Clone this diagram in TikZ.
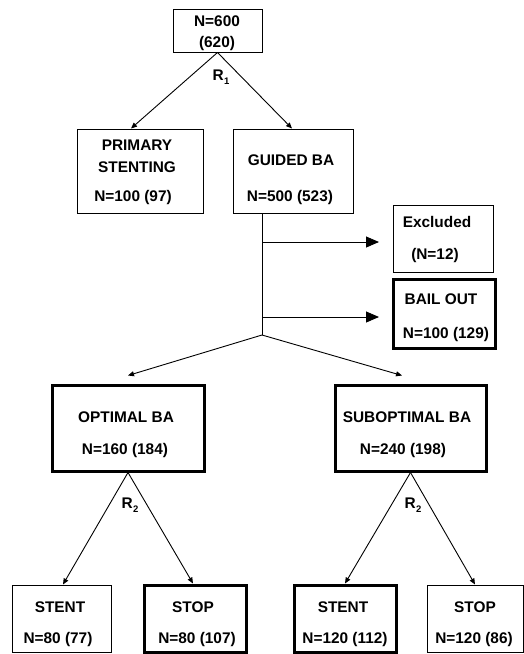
\documentclass[tikz,border=0pt]{standalone}
\usepackage{fontspec}
\setmainfont{Liberation Sans}
\usetikzlibrary{arrows.meta}
\begin{document}
\begin{tikzpicture}[x=1pt,y=-1pt,
  thinbox/.style={draw,line width=1pt,inner sep=0pt},
  thickbox/.style={draw,line width=3pt,inner sep=0pt},
  lbl/.style={font=\fontsize{15.4}{18}\selectfont\bfseries,inner sep=0pt,text height=11pt,text depth=0pt},
  conn/.style={line width=0.9pt},
  sarrow/.style={conn,-{Triangle[length=6pt,width=5pt]}},
  barrow/.style={conn,-{Triangle[length=13pt,width=11pt]}}]
\useasboundingbox (0,0) rectangle (524,654);
% boxes
\node[thinbox,minimum width=89pt,minimum height=43pt] (top) at (217.5,30.5) {};
\node[thinbox,minimum width=126pt,minimum height=84pt] (primary) at (140,171) {};
\node[thinbox,minimum width=120pt,minimum height=84pt] (guided) at (293,171) {};
\node[thinbox,minimum width=100pt,minimum height=67pt] (excluded) at (443,238.5) {};
\node[thickbox,minimum width=102pt,minimum height=69pt] (bailout) at (444,313.5) {};
\node[thickbox,minimum width=152pt,minimum height=86pt] (optimal) at (128,428) {};
\node[thickbox,minimum width=151pt,minimum height=86pt] (subopt) at (410.5,428) {};
\node[thinbox,minimum width=99pt,minimum height=67pt] (stentA) at (61.5,618.5) {};
\node[thickbox,minimum width=102pt,minimum height=67pt] (stopA) at (195,618.5) {};
\node[thickbox,minimum width=102pt,minimum height=67pt] (stentB) at (345,618.5) {};
\node[thinbox,minimum width=96pt,minimum height=67pt] (stopB) at (475,618.5) {};
% texts
\node[lbl] (t1) at (217,21) {N=600};
\node[lbl] (t2) at (217,42) {(620)};
\node[lbl] (p1) at (137,145) {PRIMARY};
\node[lbl] (p2) at (137,167) {STENTING};
\node[lbl] (p3) at (133,196) {N=100 (97)};
\node[lbl] (g1) at (291,160) {GUIDED BA};
\node[lbl] (g2) at (290,196) {N=500 (523)};
\node[lbl] (e1) at (437,222) {Excluded};
\node[lbl] (e2) at (435,254) {(N=12)};
\node[lbl] (b1) at (441,299) {BAIL OUT};
\node[lbl] (b2) at (446,333) {N=100 (129)};
\node[lbl] (o1) at (126,417) {OPTIMAL BA};
\node[lbl] (o2) at (125,449) {N=160 (184)};
\node[lbl] (s1) at (407,417) {SUBOPTIMAL BA};
\node[lbl] (s2) at (403,449) {N=240 (198)};
\node[lbl] (sa1) at (60,607) {STENT};
\node[lbl] (sa2) at (58,638) {N=80 (77)};
\node[lbl] (pa1) at (193,607) {STOP};
\node[lbl] (pa2) at (197,638) {N=80 (107)};
\node[lbl] (sb1) at (343,607) {STENT};
\node[lbl] (sb2) at (345,638) {N=120 (112)};
\node[lbl] (pb1) at (475,607) {STOP};
\node[lbl] (pb2) at (474,638) {N=120 (86)};
% randomisation labels
\node[lbl] (r1) at (221,75) {R\kern0.3pt\raisebox{-4pt}{\fontsize{9.5}{10}\selectfont 1}};
\node[lbl] (r2a) at (130,503) {R\kern0.3pt\raisebox{-4pt}{\fontsize{9.5}{10}\selectfont 2}};
\node[lbl] (r2b) at (413,503) {R\kern0.3pt\raisebox{-4pt}{\fontsize{9.5}{10}\selectfont 2}};
% connectors
\draw[sarrow] (top.south) -- ([xshift=-9pt]primary.north);
\draw[sarrow] (top.south) -- ([xshift=-1pt]guided.north);
\coordinate (vtop) at ([xshift=-31pt]guided.south);
\coordinate (ej) at (262,242);
\coordinate (bj) at (262,317);
\coordinate (jn) at (262,335);
\coordinate (etip) at (379,242);
\coordinate (btip) at (379,317);
\draw[conn] (vtop) -- (jn);
\draw[barrow] (ej) -- (etip);
\draw[barrow] (bj) -- (btip);
\draw[sarrow] (jn) -- ([yshift=8pt]optimal.north);
\draw[sarrow] (jn) -- ([xshift=-8.5pt,yshift=8pt]subopt.north);
\draw[sarrow] (optimal.south) -- ([xshift=1.5pt]stentA.north);
\draw[sarrow] (optimal.south) -- ([xshift=-2pt]stopA.north);
\draw[sarrow] (subopt.south) -- (stentB.north);
\draw[sarrow] (subopt.south) -- (stopB.north);
\end{tikzpicture}
\end{document}
